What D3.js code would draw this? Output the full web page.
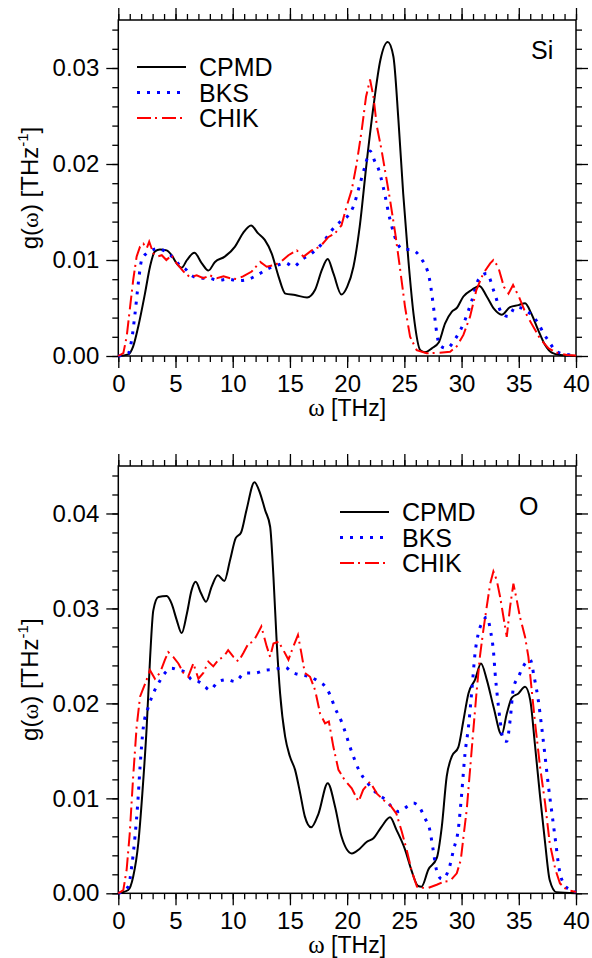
<!DOCTYPE html>
<html>
<head>
<meta charset="utf-8">
<title>g(omega) Si and O</title>
<script src="https://d3js.org/d3.v7.min.js"></script>
<style>
  body { margin: 0; background: #fff; }
  svg text { font-family: "Liberation Sans", Arial, sans-serif; fill: #000; }
</style>
</head>
<body>
<div id="chart"></div>
<script>
// values: [omega in THz, g in units of 1e-3 THz^-1]
const omegaTicks = [0, 5, 10, 15, 20, 25, 30, 35, 40];
const siTicks = [0, 0.01, 0.02, 0.03];
const oTicks = [0, 0.01, 0.02, 0.03, 0.04];
const seriesNames = ["CPMD", "BKS", "CHIK"];

const siCPMD = [[0,0],[0.87,0.17],[1.3,1.0],[1.75,3.1],[2.33,6.5],[2.77,9.3],[3.2,10.9],[3.64,11.1],[4.23,11.0],[4.66,10.5],[5.1,9.65],[5.54,9.2],[6.0,10.0],[6.65,10.76],[7.3,9.65],[7.87,8.9],[8.45,9.8],[9.3,10.35],[10.2,11.4],[10.9,12.8],[11.6,13.6],[12.2,12.8],[12.8,12.1],[13.4,10.7],[14.0,8.3],[14.6,6.5],[15.45,6.35],[16.5,6.1],[17.2,6.9],[17.8,9.0],[18.3,10.1],[18.8,8.6],[19.5,6.4],[20.0,7.2],[20.55,9.3],[21.1,13.5],[21.7,20.1],[22.3,26.0],[22.9,30.8],[23.55,32.7],[24.04,31.2],[24.48,24.6],[24.9,16.9],[25.35,10.0],[25.8,4.4],[26.4,0.6],[26.8,0.4],[27.4,0.8],[28.0,1.4],[28.56,3.4],[29.14,4.6],[29.58,5.0],[30.16,6.2],[30.9,6.9],[31.56,7.3],[32.2,6.2],[32.84,4.9],[33.5,4.3],[34.24,5.1],[34.97,5.3],[35.55,5.5],[36.1,4.4],[36.7,2.7],[37.3,1.15],[37.88,0.35],[38.6,0.1],[40,0]];
const siBKS = [[0,0],[0.87,0.28],[1.17,1.7],[1.46,4.4],[1.75,7.6],[2.04,10.0],[2.48,10.7],[2.9,11.0],[3.44,11.2],[3.94,11.0],[4.37,10.7],[4.96,10.0],[5.4,9.4],[5.83,9.1],[6.4,8.4],[7.14,8.1],[7.87,8.1],[8.75,7.9],[9.6,8.0],[10.5,7.85],[11.37,8.0],[12.24,8.5],[13.1,9.1],[14.0,9.5],[14.6,9.7],[15.3,9.3],[16.0,10.0],[16.9,10.7],[17.8,11.7],[18.66,13.1],[19.4,14.0],[20.1,14.65],[20.55,15.6],[21.07,17.7],[21.57,19.8],[22.0,21.35],[22.44,20.2],[22.73,19.5],[23.17,17.5],[23.75,14.2],[24.33,11.9],[24.9,11.1],[25.5,11.1],[26.5,10.1],[27.2,8.0],[27.6,4.6],[27.83,2.4],[28.06,1.15],[28.7,0.8],[29.4,1.7],[30.25,3.6],[30.9,5.8],[31.5,8.0],[32.2,8.6],[32.84,6.7],[33.5,4.5],[34.1,4.1],[34.7,5.1],[35.4,4.9],[36.1,4.3],[36.7,3.4],[37.15,2.4],[37.7,1.4],[38.3,0.45],[39.2,0.17],[40,0.05]];
const siCHIK = [[0,0],[0.44,0.3],[0.73,2.0],[1.0,4.8],[1.3,7.9],[1.6,10.35],[1.9,11.4],[2.19,11.7],[2.48,11.2],[2.7,11.9],[3.06,10.7],[3.35,10.35],[3.8,10.5],[4.2,10.0],[4.66,10.5],[5.1,9.65],[5.7,8.8],[6.27,8.2],[6.85,8.4],[7.43,8.1],[8.0,8.4],[8.6,8.1],[9.2,8.3],[9.77,8.1],[10.35,8.0],[10.9,8.3],[11.66,8.8],[12.4,9.8],[12.97,9.3],[13.7,9.5],[14.3,9.9],[14.87,10.5],[15.6,11.0],[16.2,10.35],[16.9,11.0],[17.64,11.4],[18.37,12.4],[18.95,12.8],[19.5,13.6],[19.96,15.6],[20.4,17.3],[20.84,20.1],[21.27,23.5],[21.65,27.0],[22.0,28.8],[22.3,27.0],[22.6,23.9],[23.0,21.5],[23.3,19.4],[23.75,16.25],[24.2,12.8],[24.6,9.3],[25.06,5.1],[25.5,2.0],[26.08,0.6],[26.95,0.28],[28.1,0.35],[29.0,0.45],[29.58,1.0],[30.16,2.2],[30.74,4.1],[31.3,6.9],[31.9,8.6],[32.5,9.65],[32.78,10.0],[33.2,9.3],[33.7,7.2],[34.1,6.5],[34.5,7.4],[35.0,6.2],[35.55,4.6],[36.1,3.4],[36.86,1.8],[37.6,0.8],[38.3,0.35],[39.2,0.1],[40,0.05]];

const oCPMD = [[0,0],[0.87,0.35],[1.3,1.75],[1.75,5.3],[2.1,10.5],[2.48,17.5],[2.77,24.6],[3.06,29.8],[3.5,31.2],[4.23,31.3],[4.66,30.5],[5.1,28.8],[5.54,27.4],[6.0,29.5],[6.4,31.9],[6.76,32.8],[7.23,31.6],[7.67,30.7],[8.16,32.3],[8.69,33.5],[9.27,32.9],[9.77,35.1],[10.26,37.4],[10.73,38.0],[11.2,40.35],[11.9,43.3],[12.4,42.1],[12.83,40.35],[13.27,38.6],[13.56,33.3],[13.85,26.3],[14.14,21.05],[14.58,16.5],[15.0,14.4],[15.45,13.0],[15.9,10.5],[16.3,8.1],[16.85,6.95],[17.5,8.4],[18.3,11.6],[18.95,9.1],[19.5,6.0],[20.4,4.2],[21.1,4.7],[21.7,5.4],[22.3,5.8],[23.0,7.0],[23.75,8.0],[24.3,6.7],[25.06,4.6],[25.6,2.5],[26.2,0.77],[26.5,0.7],[27.1,2.5],[27.83,3.7],[28.27,7.0],[28.7,12.3],[29.14,14.4],[29.72,15.4],[30.16,18.2],[30.6,21.05],[31.18,22.5],[31.7,24.2],[32.2,22.5],[32.8,19.6],[33.5,16.7],[33.95,18.9],[34.4,20.6],[34.97,21.05],[35.55,21.75],[36.0,20.35],[36.4,15.8],[36.86,10.2],[37.3,5.3],[37.7,1.4],[38.3,0.1],[40,0]];
const oBKS = [[0,0],[0.87,0.7],[1.17,2.8],[1.46,6.0],[1.7,9.5],[1.9,13.3],[2.19,17.5],[2.62,19.6],[3.06,21.05],[3.5,22.1],[4.08,23.2],[4.66,23.7],[5.25,23.5],[5.83,23.3],[6.4,22.5],[7.0,22.3],[7.58,21.75],[8.0,21.4],[8.75,22.3],[9.5,22.5],[10.2,22.3],[11.08,23.2],[11.95,23.2],[12.83,23.5],[13.7,23.6],[14.58,23.8],[15.16,23.3],[15.9,23.0],[16.76,22.8],[17.5,22.3],[18.07,21.8],[18.5,20.9],[18.95,19.5],[19.5,18.1],[20.4,14.9],[21.1,12.8],[21.7,11.75],[22.6,10.5],[23.3,9.9],[23.9,9.1],[24.5,8.6],[25.2,9.1],[25.8,9.5],[26.4,8.9],[26.8,7.9],[27.2,6.8],[27.5,4.7],[27.8,2.5],[28.27,1.5],[28.85,2.4],[29.3,4.6],[29.72,6.8],[30.0,10.35],[30.3,14.7],[30.6,17.5],[30.9,21.4],[31.18,25.3],[31.47,27.4],[31.85,28.6],[32.2,29.1],[32.55,27.5],[32.8,25.3],[32.93,23.2],[33.13,20.7],[33.37,18.2],[33.66,16.1],[33.95,16.0],[34.24,18.2],[34.53,21.6],[34.97,22.8],[35.55,24.2],[36.0,24.6],[36.34,22.8],[36.7,20.35],[37.0,17.5],[37.3,14.4],[37.6,11.2],[37.9,8.4],[38.2,5.6],[38.5,2.8],[38.9,1.05],[39.5,0.35],[40,0.15]];
const oCHIK = [[0,0],[0.44,0.35],[0.73,2.5],[1.0,6.3],[1.3,12.3],[1.6,17.5],[1.9,20.7],[2.19,21.6],[2.48,22.5],[2.77,23.5],[3.2,22.6],[3.64,23.2],[4.08,24.6],[4.37,25.4],[4.8,24.9],[5.25,24.2],[5.7,23.2],[6.1,22.8],[6.56,24.2],[7.0,22.6],[7.43,23.2],[7.87,24.4],[8.3,23.9],[8.75,24.6],[9.2,24.9],[9.6,25.6],[10.06,24.9],[10.5,24.4],[10.93,25.3],[11.37,26.3],[11.8,26.5],[12.2,27.4],[12.5,28.1],[12.97,26.0],[13.27,24.9],[13.56,26.3],[14.0,26.5],[14.43,25.6],[14.87,24.6],[15.3,26.0],[15.7,27.2],[16.0,25.3],[16.3,23.2],[16.76,22.8],[17.2,21.4],[17.64,18.9],[18.07,17.9],[18.4,18.1],[18.8,15.4],[19.24,13.0],[19.8,11.9],[20.4,11.05],[21.0,9.65],[21.4,10.9],[22.0,11.75],[22.6,10.5],[23.2,9.8],[23.75,9.3],[24.3,8.4],[24.77,6.5],[25.2,4.6],[25.65,2.3],[26.1,0.7],[26.95,0.5],[27.83,0.9],[28.4,1.2],[29.0,1.3],[29.58,2.1],[29.93,3.5],[30.2,6.3],[30.45,8.8],[30.74,13.0],[31.0,16.8],[31.3,21.05],[31.6,24.9],[31.9,27.7],[32.2,30.2],[32.5,32.6],[32.78,33.9],[33.07,33.0],[33.37,31.2],[33.66,29.1],[33.95,27.0],[34.24,30.2],[34.53,32.6],[34.82,30.9],[35.1,29.1],[35.55,27.0],[35.84,24.9],[36.1,21.75],[36.4,18.2],[36.86,13.3],[37.3,9.5],[37.7,5.3],[38.2,2.5],[38.6,1.05],[39.2,0.35],[40,0.15]];

const styles = {
  CPMD: { color: "#000000", dash: null, width: 2, curve: d3.curveMonotoneX },
  BKS:  { color: "#0000ff", dash: "3,7", width: 3, curve: d3.curveMonotoneX },
  CHIK: { color: "#ff0000", dash: "14,4,2,5", width: 2, curve: d3.curveLinear }
};

const svg = d3.select("#chart").append("svg")
  .attr("width", 592).attr("height", 958);

const x = d3.scaleLinear().domain([0, 40]).range([118.3, 576]);

function panel(opt) {
  const y = d3.scaleLinear().domain([0, opt.yMax]).range([opt.bottom, opt.top]);
  const g = svg.append("g");
  const minorX = d3.range(0, 41, 1);
  const minorY = d3.range(0, opt.yMax + 1e-9, 0.002);

  // frame
  g.append("rect")
    .attr("x", x(0)).attr("y", opt.top)
    .attr("width", x(40) - x(0)).attr("height", opt.bottom - opt.top)
    .attr("fill", "none").attr("stroke", "#000").attr("stroke-width", 1.5);

  const axes = [
    [d3.axisBottom(x).tickValues(omegaTicks).tickSize(12).tickPadding(7).tickFormat(d3.format("d")), `translate(0,${opt.bottom})`],
    [d3.axisBottom(x).tickValues(minorX).tickSize(6).tickFormat(""), `translate(0,${opt.bottom})`],
    [d3.axisTop(x).tickValues(omegaTicks).tickSize(12).tickFormat(""), `translate(0,${opt.top})`],
    [d3.axisTop(x).tickValues(minorX).tickSize(6).tickFormat(""), `translate(0,${opt.top})`],
    [d3.axisLeft(y).tickValues(opt.yTicks).tickSize(12).tickPadding(7).tickFormat(d3.format(".2f")), `translate(${x(0)},0)`],
    [d3.axisLeft(y).tickValues(minorY).tickSize(6).tickFormat(""), `translate(${x(0)},0)`],
    [d3.axisRight(y).tickValues(opt.yTicks).tickSize(12).tickFormat(""), `translate(${x(40)},0)`],
    [d3.axisRight(y).tickValues(minorY).tickSize(6).tickFormat(""), `translate(${x(40)},0)`]
  ];
  axes.forEach(([ax, tr], i) => {
    const a = g.append("g").attr("transform", tr).call(ax.tickSizeOuter(0));
    a.select(".domain").remove();
    a.selectAll("line").attr("stroke-width", 1.3);
    a.selectAll("text").attr("font-size", i === 0 ? 24 : 24)
      .attr("font-family", '"Liberation Sans", Arial, sans-serif');
  });

  // curves
  opt.series.forEach((data, i) => {
    const st = styles[seriesNames[i]];
    const line = d3.line().x(d => x(d[0])).y(d => y(d[1] / 1000)).curve(st.curve);
    g.append("path").datum(data)
      .attr("d", line)
      .attr("fill", "none")
      .attr("stroke", st.color)
      .attr("stroke-width", st.width)
      .attr("stroke-dasharray", st.dash);
  });

  // legend
  seriesNames.forEach((name, i) => {
    const st = styles[name];
    const ly = opt.legY + i * 25.5;
    g.append("line")
      .attr("x1", opt.legX).attr("x2", opt.legX + 49)
      .attr("y1", ly).attr("y2", ly)
      .attr("stroke", st.color).attr("stroke-width", st.width)
      .attr("stroke-dasharray", st.dash);
    g.append("text")
      .attr("x", opt.legX + 62).attr("y", ly + 9)
      .attr("font-size", 25).text(name);
  });

  g.append("text").attr("x", opt.tagX).attr("y", opt.tagY)
    .attr("font-size", 25).text(opt.tag);

  // axis titles
  const yl = g.append("text")
    .attr("transform", `translate(38,${(opt.top + opt.bottom) / 2}) rotate(-90)`)
    .attr("text-anchor", "middle").attr("font-size", 24);
  yl.append("tspan").text("g(");
  yl.append("tspan").attr("font-family", '"Liberation Serif", serif').text("ω");
  yl.append("tspan").text(") [THz");
  yl.append("tspan").attr("font-size", 15).attr("dy", -10).text("-1");
  yl.append("tspan").attr("dy", 10).text("]");

  const xl = g.append("text")
    .attr("x", (x(0) + x(40)) / 2).attr("y", opt.bottom + 60)
    .attr("text-anchor", "middle").attr("font-size", 23);
  xl.append("tspan").attr("font-family", '"Liberation Serif", serif').attr("font-size", 25).text("ω");
  xl.append("tspan").text(" [THz]");
}

panel({ top: 20, bottom: 356, yMax: 0.035, yTicks: siTicks,
        series: [siCPMD, siBKS, siCHIK], legX: 137, legY: 67,
        tag: "Si", tagX: 531, tagY: 59 });
panel({ top: 466, bottom: 893.3, yMax: 0.045, yTicks: oTicks,
        series: [oCPMD, oBKS, oCHIK], legX: 340, legY: 512,
        tag: "O", tagX: 519, tagY: 515 });
</script>
</body>
</html>
